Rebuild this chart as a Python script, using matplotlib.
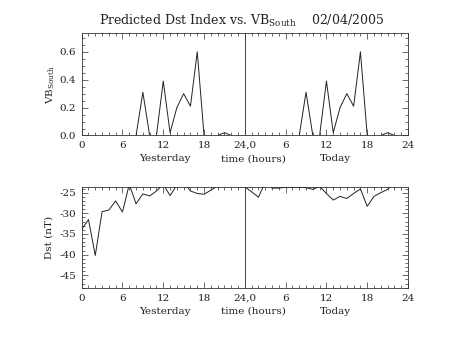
import matplotlib
matplotlib.use("Agg")
import matplotlib.pyplot as plt
from matplotlib.ticker import MultipleLocator

# ---- data ----
hours = list(range(48))
vb_yesterday = [0, 0, 0, 0, 0, 0, 0, 0, 0, 0.31, 0, 0, 0.39, 0.02, 0.20, 0.30,
                0.21, 0.60, 0, 0, 0, 0.02, 0, 0]
vb_today = [0, 0, 0, 0, 0, 0, 0, 0, 0, 0.31, 0, 0, 0.39, 0.02, 0.20, 0.30,
            0.21, 0.60, 0, 0, 0, 0.02, 0, 0]
dst_yesterday = [-33.9, -31.5, -40.2, -29.6, -29.2, -27.0, -29.7, -23.0, -27.7, -25.3,
                 -25.8, -24.6, -23.0, -25.7, -23.2, -22.5, -24.6, -25.2, -25.4, -24.4,
                 -23.4, -23.0, -23.2, -23.0]
dst_today = [-23.6, -24.8, -26.1, -22.5, -23.9, -23.9, -23.7, -23.7, -23.7, -23.8,
             -24.2, -23.5, -25.2, -26.8, -25.9, -26.4, -25.2, -24.1, -28.3, -25.9,
             -25.0, -24.2, -22.6, -22.5]
xtick_pos = [0, 6, 12, 18, 24, 30, 36, 42, 48]
xtick_labels = ["0", "6", "12", "18", "24,0", "6", "12", "18", "24"]
vb_ticks = [0.0, 0.2, 0.4, 0.6]
vb_ticklabels = ["0.0", "0.2", "0.4", "0.6"]
dst_ticks = [-45, -40, -35, -30, -25]
dst_ticklabels = ["-45", "-40", "-35", "-30", "-25"]
title_text = "Predicted Dst Index vs. VB$_{\\mathregular{South}}$    02/04/2005"

plt.rcParams['font.family'] = ['DejaVu Serif']
plt.rcParams['mathtext.fontset'] = 'dejavuserif'

fig = plt.figure(figsize=(4.53, 3.40), dpi=100)
axc = '#333333'
fs = 7.5

ax1 = fig.add_axes([0.1803, 0.6015, 0.7204, 0.3015])
ax2 = fig.add_axes([0.1803, 0.152, 0.7204, 0.299])

vb = vb_yesterday + vb_today
dst = dst_yesterday + dst_today

ax1.plot(hours, vb, color='#222222', lw=0.7)
ax2.plot(hours, dst, color='#222222', lw=0.7)

for ax in (ax1, ax2):
    ax.set_xlim(0, 48)
    ax.set_xticks(xtick_pos)
    ax.set_xticklabels(xtick_labels, fontsize=fs)
    ax.xaxis.set_minor_locator(MultipleLocator(1))
    ax.axvline(24, color='#444444', lw=0.7)
    ax.tick_params(which='both', direction='in', top=True, right=True,
                   color=axc, labelcolor='#222222', width=0.5)
    ax.tick_params(which='major', length=4.5, pad=4)
    ax.tick_params(which='minor', length=2.2)
    for s in ax.spines.values():
        s.set_color(axc)
        s.set_linewidth(0.6)
    ax.text(12.3 / 48, -0.225, "Yesterday", transform=ax.transAxes,
            ha='center', va='center', fontsize=fs, color='#222222')
    ax.text(25.2 / 48, -0.225, "time (hours)", transform=ax.transAxes,
            ha='center', va='center', fontsize=fs, color='#222222')
    ax.text(37.3 / 48, -0.225, "Today", transform=ax.transAxes,
            ha='center', va='center', fontsize=fs, color='#222222')

ax1.set_ylim(0, 0.735)
ax1.set_yticks(vb_ticks)
ax1.set_yticklabels(vb_ticklabels, fontsize=fs)
ax1.yaxis.set_minor_locator(MultipleLocator(0.05))
ax1.set_ylabel("VB$_{\\mathregular{South}}$", fontsize=fs, color='#222222', labelpad=2)

ax2.set_ylim(-48.15, -23.55)
ax2.set_yticks(dst_ticks)
ax2.set_yticklabels(dst_ticklabels, fontsize=fs)
ax2.yaxis.set_minor_locator(MultipleLocator(1))
ax2.set_ylabel("Dst (nT)", fontsize=fs, color='#222222', labelpad=4)

fig.text(0.533, 0.915, title_text, ha='center', va='bottom', fontsize=9,
         color='#222222')

fig.savefig("out.png", dpi=100, facecolor='white')
